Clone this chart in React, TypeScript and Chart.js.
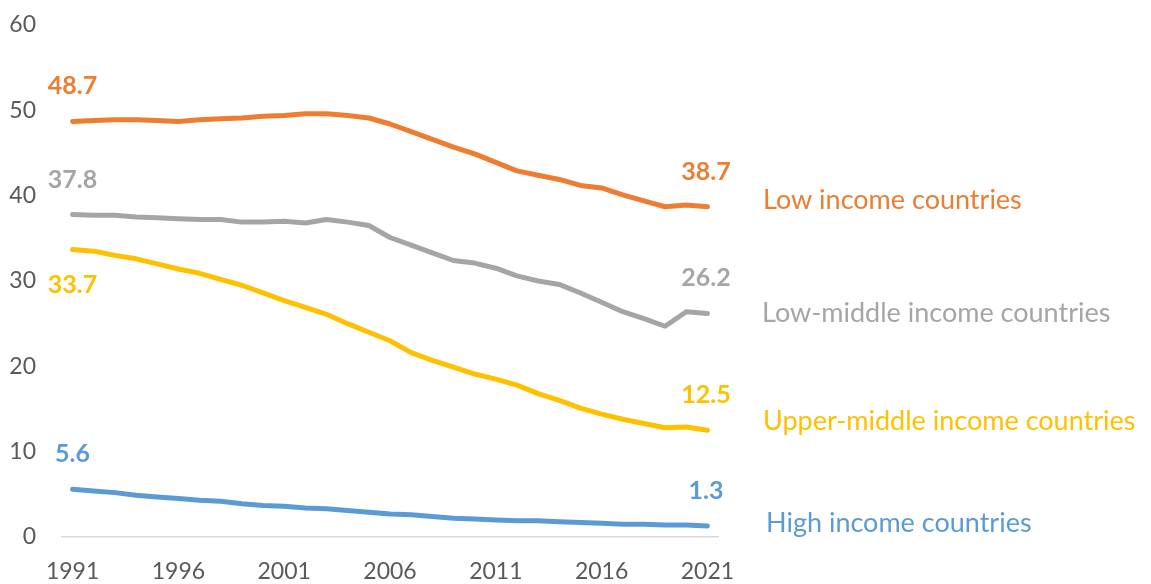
import React, { useEffect, useRef } from "react";
import { Chart, registerables } from "chart.js";

Chart.register(...registerables);

const YEARS = [
  "1991", "1992", "1993", "1994", "1995", "1996", "1997", "1998", "1999", "2000",
  "2001", "2002", "2003", "2004", "2005", "2006", "2007", "2008", "2009", "2010",
  "2011", "2012", "2013", "2014", "2015", "2016", "2017", "2018", "2019", "2020", "2021",
];

const LOW_INCOME = [
  48.7, 48.8, 48.9, 48.9, 48.8, 48.7, 48.9, 49.0, 49.1, 49.3,
  49.4, 49.6, 49.6, 49.4, 49.1, 48.4, 47.5, 46.6, 45.7, 44.9,
  43.9, 42.9, 42.4, 41.9, 41.2, 40.9, 40.1, 39.4, 38.7, 38.9, 38.7,
];

const LOW_MIDDLE_INCOME = [
  37.8, 37.7, 37.7, 37.5, 37.4, 37.3, 37.2, 37.2, 36.9, 36.9,
  37.0, 36.8, 37.2, 36.9, 36.5, 35.1, 34.2, 33.3, 32.4, 32.1,
  31.5, 30.6, 30.0, 29.6, 28.6, 27.5, 26.4, 25.6, 24.7, 26.4, 26.2,
];

const UPPER_MIDDLE_INCOME = [
  33.7, 33.5, 33.0, 32.6, 32.0, 31.4, 30.9, 30.2, 29.5, 28.6,
  27.7, 26.9, 26.1, 25.0, 24.0, 23.0, 21.6, 20.7, 19.9, 19.1,
  18.5, 17.8, 16.8, 16.0, 15.1, 14.4, 13.8, 13.3, 12.8, 12.9, 12.5,
];

const HIGH_INCOME = [
  5.6, 5.4, 5.2, 4.9, 4.7, 4.5, 4.3, 4.2, 3.9, 3.7,
  3.6, 3.4, 3.3, 3.1, 2.9, 2.7, 2.6, 2.4, 2.2, 2.1,
  2.0, 1.9, 1.9, 1.8, 1.7, 1.6, 1.5, 1.5, 1.4, 1.4, 1.3,
];

const SERIES_NAMES = [
  "Low income countries",
  "Low-middle income countries",
  "Upper-middle income countries",
  "High income countries",
];

const SERIES_COLORS = ["#ED7D31", "#A5A5A5", "#FFC000", "#5B9BD5"];

const Y_TICKS = [0, 10, 20, 30, 40, 50, 60];

const FONT = "Lato, 'Open Sans', sans-serif";

// layout of the annotation texts (value units for the name labels' baselines)
const NAME_BASELINE_VALUES = [38.4, 25.23, 12.54, 0.62];
const NAME_X_OFFSETS = [45, 44, 45, 48];
const START_LABEL_BELOW = [false, false, true, false];

const labelsPlugin = {
  id: "endLabels",
  afterDatasetsDraw(chart: any) {
    const { ctx, chartArea } = chart;
    const yScale = chart.scales.y;
    ctx.save();
    chart.data.datasets.forEach((ds: any, i: number) => {
      const meta = chart.getDatasetMeta(i);
      const pts = meta.data;
      const first = pts[0];
      const last = pts[pts.length - 1];
      const color = SERIES_COLORS[i];
      ctx.fillStyle = color;
      ctx.font = `bold 25px ${FONT}`;
      ctx.textAlign = "center";
      ctx.textBaseline = "middle";
      const firstVal = ds.data[0];
      const lastVal = ds.data[ds.data.length - 1];
      const dy0 = START_LABEL_BELOW[i] ? 36 : -35;
      ctx.fillText(firstVal.toFixed(1), first.x, first.y + dy0);
      ctx.fillText(lastVal.toFixed(1), last.x - 1.5, last.y - 35);

      ctx.font = `27px ${FONT}`;
      ctx.textAlign = "left";
      ctx.textBaseline = "alphabetic";
      ctx.fillText(
        SERIES_NAMES[i],
        chartArea.right + NAME_X_OFFSETS[i],
        yScale.getPixelForValue(NAME_BASELINE_VALUES[i])
      );
    });
    ctx.restore();
  },
};

export default function App() {
  const canvasRef = useRef<HTMLCanvasElement | null>(null);

  useEffect(() => {
    if (!canvasRef.current) return;
    const seriesData = [LOW_INCOME, LOW_MIDDLE_INCOME, UPPER_MIDDLE_INCOME, HIGH_INCOME];
    const chart = new Chart(canvasRef.current, {
      type: "line",
      data: {
        labels: YEARS,
        datasets: seriesData.map((d, i) => ({
          label: SERIES_NAMES[i],
          data: d,
          borderColor: SERIES_COLORS[i],
          backgroundColor: SERIES_COLORS[i],
          borderWidth: 5,
          pointRadius: 0,
          pointHoverRadius: 0,
          tension: 0,
          borderCapStyle: "round",
          borderJoinStyle: "round",
          fill: false,
        })),
      },
      options: {
        animation: false,
        responsive: true,
        maintainAspectRatio: false,
        layout: { padding: { top: 25, right: 433, left: 0, bottom: 0 } },
        plugins: {
          legend: { display: false },
          tooltip: { enabled: false },
          title: { display: false },
        },
        scales: {
          x: {
            type: "category",
            offset: true,
            grid: { display: false, drawTicks: false },
            border: { display: true, color: "#D9D9D9", width: 1.5 },
            ticks: {
              autoSkip: false,
              maxRotation: 0,
              minRotation: 0,
              padding: 21,
              color: "#595959",
              font: { family: FONT, size: 23 },
              callback: (_v: any, index: number) => (index % 5 === 0 ? YEARS[index] : null),
            },
            afterFit: (scale: any) => {
              scale.height = 47;
            },
          },
          y: {
            min: Y_TICKS[0],
            max: Y_TICKS[Y_TICKS.length - 1],
            grid: { display: false, drawTicks: false },
            border: { display: false },
            ticks: {
              stepSize: 10,
              padding: 26,
              color: "#595959",
              font: { family: FONT, size: 23 },
            },
            afterFit: (scale: any) => {
              scale.width = 62;
              scale.paddingTop = 0;
              scale.paddingBottom = 0;
            },
          },
        },
      },
      plugins: [labelsPlugin],
    });
    return () => chart.destroy();
  }, []);

  return (
    <div style={{ position: "fixed", left: 0, top: 0, width: 1151, height: 584, background: "#fff" }}>
      <canvas ref={canvasRef} />
    </div>
  );
}
